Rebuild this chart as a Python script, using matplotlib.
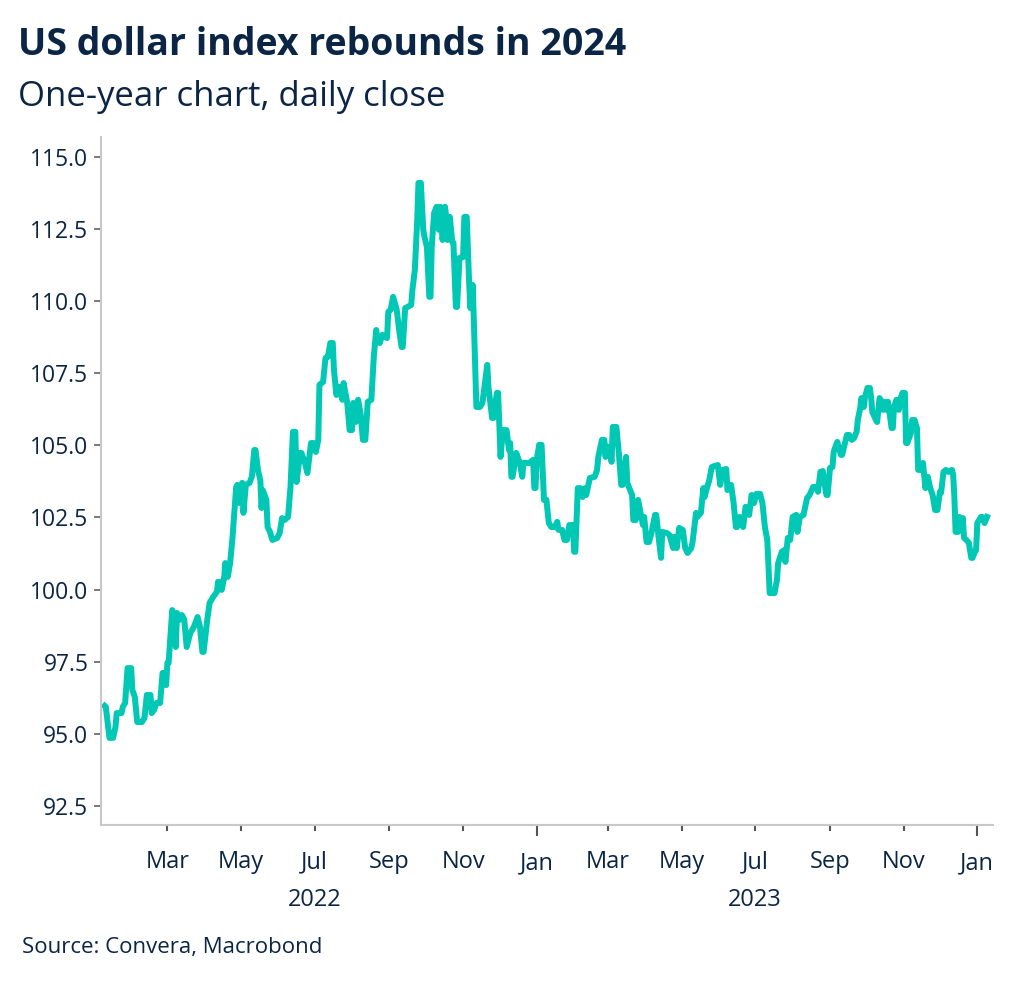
import matplotlib
matplotlib.use('Agg')
import matplotlib.pyplot as plt
import matplotlib.dates as mdates
import matplotlib.ticker as mticker
import numpy as np

plt.rcParams['font.family'] = ['Open Sans', 'DejaVu Sans']

# US dollar index (DXY), daily close
start_date = np.datetime64('2022-01-01')
day_offsets = [
    7, 8, 11, 14, 16, 17, 21, 22, 24, 26,
    29, 30, 32, 34, 38, 40, 42, 45, 46, 48,
    50, 53, 55, 56, 58, 59, 60, 63, 64, 66,
    67, 69, 71, 73, 75, 78, 81, 84, 86, 88,
    89, 92, 94, 97, 100, 101, 103, 104, 106, 107,
    109, 111, 113, 116, 117, 119, 121, 122, 124, 127,
    129, 131, 132, 134, 136, 137, 138, 141, 142, 144,
    146, 150, 152, 154, 156, 159, 161, 163, 165, 166,
    169, 170, 173, 175, 178, 180, 182, 184, 185, 188,
    190, 192, 194, 196, 197, 199, 201, 204, 205, 208,
    210, 212, 213, 215, 217, 219, 221, 223, 225, 228,
    230, 232, 233, 235, 237, 241, 242, 244, 246, 249,
    251, 253, 254, 256, 258, 261, 262, 264, 266, 267,
    269, 271, 272, 274, 276, 277, 278, 280, 282, 284,
    285, 287, 289, 290, 291, 293, 295, 296, 298, 299,
    301, 304, 305, 307, 309, 310, 312, 315, 318, 320,
    324, 325, 328, 329, 332, 333, 335, 337, 340, 342,
    343, 344, 345, 348, 351, 353, 354, 357, 359, 362,
    363, 364, 365, 367, 369, 371, 373, 375, 377, 380,
    382, 383, 386, 388, 390, 392, 395, 396, 397, 399,
    401, 403, 405, 406, 409, 413, 415, 416, 419, 421,
    422, 423, 425, 427, 428, 431, 433, 435, 436, 439,
    440, 444, 445, 447, 449, 451, 453, 454, 456, 458,
    460, 463, 464, 466, 468, 469, 473, 475, 478, 479,
    481, 483, 486, 488, 490, 493, 494, 497, 498, 501,
    503, 504, 506, 508, 510, 512, 515, 517, 519, 522,
    523, 526, 528, 530, 531, 533, 536, 538, 541, 543,
    545, 547, 550, 552, 554, 556, 558, 562, 564, 565,
    568, 570, 571, 573, 575, 577, 580, 581, 583, 586,
    589, 591, 594, 597, 598, 600, 602, 603, 605, 606,
    608, 610, 611, 613, 614, 617, 618, 620, 622, 624,
    626, 628, 630, 631, 633, 634, 636, 637, 639, 641,
    642, 643, 646, 647, 649, 651, 652, 653, 655, 656,
    659, 660, 661, 663, 665, 666, 668, 670, 671, 672,
    675, 676, 678, 680, 681, 684, 685, 687, 689, 691,
    693, 695, 697, 699, 700, 702, 704, 706, 709, 710,
    711, 712, 714, 715, 717, 718, 719, 721, 723, 725,
    726, 728, 729, 730, 733, 734, 736, 738,
]
dxy_close = [
    95.97, 95.93, 94.86, 94.86, 95.24, 95.72, 95.72, 95.93, 96.07, 97.28,
    97.28, 96.52, 96.28, 95.41, 95.41, 95.55, 96.35, 96.35, 95.72, 95.83,
    96.07, 96.07, 97.11, 97.11, 96.69, 97.46, 97.46, 99.29, 99.05, 98.01,
    99.19, 98.95, 99.12, 98.95, 98.01, 98.50, 98.71, 99.05, 98.71, 97.84,
    97.84, 98.95, 99.54, 99.75, 99.92, 100.27, 100.27, 99.99, 100.40, 100.92,
    100.44, 100.92, 101.83, 103.56, 103.63, 103.00, 103.70, 102.66, 103.63, 103.70,
    103.91, 104.84, 104.84, 104.15, 103.80, 102.83, 103.45, 103.11, 102.17, 102.00,
    101.72, 101.79, 101.96, 102.48, 102.41, 102.52, 103.56, 105.47, 105.47, 103.73,
    104.74, 104.74, 104.39, 104.04, 105.08, 105.08, 104.77, 105.19, 107.10, 107.20,
    108.03, 108.07, 108.55, 108.55, 107.62, 106.75, 107.03, 106.58, 107.16, 106.47,
    105.53, 105.53, 106.47, 105.81, 106.58, 106.12, 105.19, 105.19, 106.51, 106.58,
    108.07, 109.00, 108.59, 108.55, 108.83, 108.72, 109.63, 109.70, 110.15, 109.70,
    109.00, 108.41, 108.41, 109.76, 109.80, 109.87, 110.39, 111.08, 112.82, 114.10,
    114.10, 112.47, 112.23, 111.88, 110.15, 110.15, 111.88, 113.06, 113.27, 112.47,
    113.27, 112.12, 113.27, 112.92, 112.12, 112.92, 112.05, 112.02, 109.80, 109.80,
    111.50, 111.53, 112.92, 112.92, 110.63, 109.76, 110.56, 106.33, 106.33, 106.47,
    107.79, 107.03, 105.95, 105.95, 106.82, 106.82, 104.60, 105.53, 105.53, 104.84,
    105.08, 103.91, 103.91, 104.74, 104.39, 103.91, 104.39, 104.39, 104.39, 104.50,
    103.52, 103.52, 104.50, 105.02, 105.02, 103.11, 103.11, 102.31, 102.17, 102.17,
    102.35, 102.07, 102.07, 101.72, 101.72, 102.24, 102.24, 101.31, 101.31, 103.52,
    103.52, 103.21, 103.52, 103.28, 103.87, 103.91, 104.15, 104.60, 105.19, 105.19,
    104.60, 104.95, 104.95, 104.43, 105.64, 105.64, 104.74, 103.63, 103.63, 104.60,
    103.70, 103.28, 102.41, 102.41, 103.11, 102.66, 102.24, 102.52, 101.65, 101.65,
    101.96, 102.59, 102.59, 101.79, 101.10, 102.00, 101.96, 101.89, 101.44, 101.83,
    101.44, 102.14, 102.07, 101.44, 101.27, 101.44, 101.62, 102.66, 102.52, 102.66,
    103.52, 103.21, 103.52, 103.80, 104.25, 104.28, 104.32, 103.63, 104.15, 104.18,
    103.45, 103.63, 103.04, 102.17, 102.17, 102.52, 102.17, 102.87, 102.59, 103.28,
    103.00, 103.32, 103.32, 103.00, 102.17, 101.72, 99.88, 99.88, 100.33, 100.92,
    101.31, 101.37, 100.96, 101.79, 101.72, 102.52, 102.59, 102.00, 102.52, 102.59,
    103.18, 103.28, 103.56, 103.56, 103.39, 104.08, 104.11, 103.80, 103.28, 103.28,
    104.22, 104.25, 104.77, 105.02, 105.12, 104.67, 104.67, 105.02, 105.36, 105.36,
    105.19, 105.26, 105.47, 105.88, 106.30, 106.64, 106.33, 106.68, 106.99, 106.99,
    106.68, 106.16, 105.88, 105.81, 106.64, 106.51, 106.23, 106.51, 106.23, 106.51,
    105.60, 105.60, 106.33, 106.58, 106.23, 106.58, 106.82, 106.82, 105.08, 105.08,
    105.43, 105.88, 105.88, 105.60, 104.15, 104.15, 104.39, 103.52, 103.91, 103.52,
    103.28, 102.76, 102.76, 103.39, 103.36, 104.08, 104.15, 104.08, 104.15, 103.98,
    103.21, 102.00, 102.00, 102.52, 102.14, 102.48, 101.79, 101.72, 101.62, 101.10,
    101.10, 101.31, 101.37, 102.31, 102.52, 102.52, 102.31, 102.52,
]

y_ticks = [92.5, 95.0, 97.5, 100.0, 102.5, 105.0, 107.5, 110.0, 112.5, 115.0]
year_labels = ['2022', '2023']
year_label_dates = ['2022-07-01', '2023-07-01']

title = 'US dollar index rebounds in 2024'
subtitle = 'One-year chart, daily close'
source = 'Source: Convera, Macrobond'

NAVY = '#0b2545'
TEAL = '#00c8b4'
GRID_GREY = '#c8c8c8'
TICK_GREY = '#555555'


def make_chart():
    dates = start_date + np.array(day_offsets, dtype='timedelta64[D]')

    fig = plt.figure(figsize=(10.24, 9.85), dpi=100)
    ax = fig.add_axes([101 / 1024, 160 / 985, 892 / 1024, 688 / 985])

    ax.plot(dates, dxy_close, color=TEAL, lw=4.3)

    ax.set_xlim(start_date + np.timedelta64(4, 'D'),
                start_date + np.timedelta64(743, 'D'))
    ax.set_ylim(91.84, 115.69)

    for side in ['top', 'right']:
        ax.spines[side].set_visible(False)
    for side in ['left', 'bottom']:
        ax.spines[side].set_color(GRID_GREY)
        ax.spines[side].set_linewidth(1.5)

    ax.set_yticks(y_ticks)
    ax.yaxis.set_major_formatter(mticker.FormatStrFormatter('%.1f'))
    ax.tick_params(axis='y', length=5, width=1.1, color=TICK_GREY,
                   labelsize=16.5, labelcolor=NAVY, pad=4)

    ax.xaxis.set_major_locator(mdates.MonthLocator(bymonth=[1]))
    ax.xaxis.set_minor_locator(mdates.MonthLocator(bymonth=[3, 5, 7, 9, 11]))
    ax.xaxis.set_major_formatter(mdates.DateFormatter('%b'))
    ax.xaxis.set_minor_formatter(mdates.DateFormatter('%b'))
    ax.tick_params(axis='x', which='major', length=8, width=1.5,
                   color=TICK_GREY, labelsize=17, labelcolor=NAVY, pad=11)
    ax.tick_params(axis='x', which='minor', length=4, width=1.5,
                   color=TICK_GREY, labelsize=17, labelcolor=NAVY, pad=14)

    for label, d in zip(year_labels, year_label_dates):
        ax.annotate(label, xy=(np.datetime64(d), 0),
                    xycoords=('data', 'axes fraction'),
                    xytext=(0, -54), textcoords='offset points',
                    ha='center', va='center', fontsize=17, color=NAVY)

    fig.text(18 / 1024, 1 - 45 / 985, title, fontsize=27, fontweight='bold',
             color=NAVY, va='center')
    fig.text(18 / 1024, 1 - 97 / 985, subtitle, fontsize=25,
             color=NAVY, va='center')
    fig.text(22 / 1024, 1 - 948 / 985, source, fontsize=16,
             color=NAVY, va='center')
    return fig, ax


def main():
    fig, ax = make_chart()
    fig.savefig('out.png', dpi=100)


if __name__ == '__main__':
    main()
